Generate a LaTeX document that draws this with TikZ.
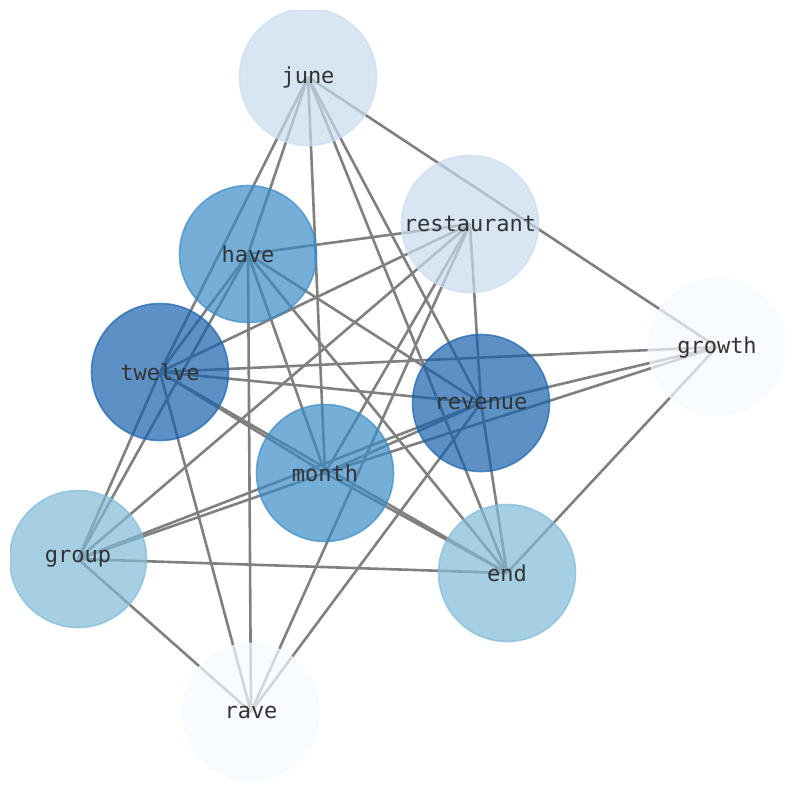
\documentclass[tikz,border=0pt]{standalone}
\usepackage{fontspec}
\newfontfamily\wordfont{DejaVu Sans Mono}
\usetikzlibrary{backgrounds}

\definecolor{palest}{RGB}{245,250,255}
\definecolor{pale}{RGB}{200,220,240}
\definecolor{mid}{RGB}{128,186,216}
\definecolor{strong}{RGB}{58,140,198}
\definecolor{deep}{RGB}{24,98,172}

\tikzset{
  word/.style={circle, minimum size=137pt, inner sep=0pt, line width=1.6pt,
    draw=#1, fill=#1, draw opacity=0.7, fill opacity=0.7, text opacity=1,
    text=black!80, font=\wordfont\fontsize{22}{26}\selectfont},
  link/.style={draw=gray, line width=2.6pt}
}

\begin{document}
\begin{tikzpicture}[x=1pt,y=-1pt]
    \useasboundingbox (0,0) rectangle (794,790);

    % Words
    \begin{scope}
    \clip (10,10) rectangle (785,780);
    \node[word=pale] (june) at (308,77) {june};
    \node[word=pale] (restaurant) at (470,224) {restaurant};
    \node[word=strong] (have) at (248,254) {have};
    \node[word=deep] (twelve) at (160,372) {twelve};
    \node[word=deep] (revenue) at (481,403) {revenue};
    \node[word=palest] (growth) at (717,347) {growth};
    \node[word=strong] (month) at (325,473) {month};
    \node[word=mid] (group) at (78,559) {group};
    \node[word=mid] (end) at (507,573) {end};
    \node[word=palest] (rave) at (251,712) {rave};
    \end{scope}

    % Links, behind the words
    \begin{scope}[on background layer]
    \foreach \a/\b in {june/have, june/twelve, june/month, june/revenue, june/end, june/growth,
        restaurant/have, restaurant/twelve, restaurant/group, restaurant/month, restaurant/rave,
        restaurant/revenue, have/twelve, have/group, have/rave, have/month, have/revenue, have/end,
        twelve/group, twelve/rave, twelve/revenue, twelve/growth, twelve/month, twelve/end,
        revenue/growth, revenue/month, revenue/group, revenue/rave, revenue/end,
        growth/month, growth/end, month/group, month/end, group/end, group/rave}
        \draw[link] (\a.center) -- (\b.center);
    \end{scope}
\end{tikzpicture}
\end{document}
